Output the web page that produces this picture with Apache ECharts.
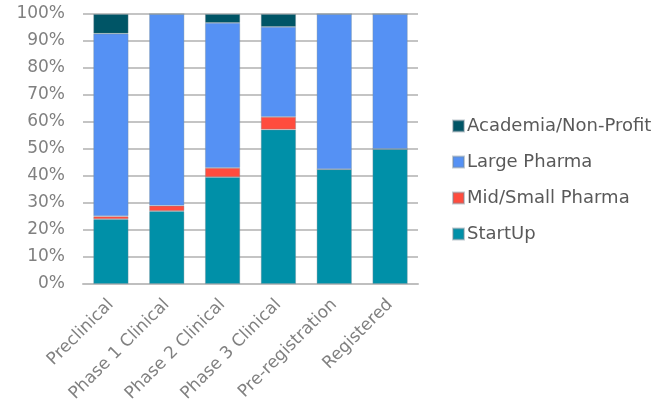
<!DOCTYPE html>
<html>
<head>
<meta charset="utf-8">
<script src="https://cdn.jsdelivr.net/npm/echarts@6/dist/echarts.min.js"></script>
<style>
  html, body { margin: 0; padding: 0; background: #ffffff; }
  #chart { width: 656px; height: 412px; }
</style>
</head>
<body>
<div id="chart"></div>
<script>
// Development stages along the x axis
const stages = ['Preclinical', 'Phase 1 Clinical', 'Phase 2 Clinical', 'Phase 3 Clinical', 'Pre-registration', 'Registered'];

// Share of products by company type at each stage (%)
const startUp = [24.0, 27.0, 39.6, 57.2, 42.5, 50.0];
const midSmallPharma = [1.1, 2.0, 3.4, 4.7, 0, 0];
const largePharma = [67.6, 71.0, 53.7, 33.3, 57.5, 50.0];
const academiaNonProfit = [7.3, 0, 3.3, 4.8, 0, 0];

const yTicks = [0, 10, 20, 30, 40, 50, 60, 70, 80, 90, 100];

const font = 'DejaVu Sans, Verdana, sans-serif';

function barSeries(name, data, color) {
  return {
    name: name,
    type: 'bar',
    stack: 'share',
    data: data,
    barCategoryGap: '37%',
    itemStyle: { color: color, borderColor: 'rgba(120,140,150,0.45)', borderWidth: 0.8 },
    emphasis: { disabled: true }
  };
}

const chart = echarts.init(document.getElementById('chart'), null, { renderer: 'canvas' });
chart.setOption({
  animation: false,
  grid: { left: 83, right: 238, top: 14, bottom: 128, containLabel: false },
  legend: {
    orient: 'vertical',
    left: 447,
    top: 112,
    itemWidth: 11,
    itemHeight: 11,
    itemGap: 18,
    icon: 'rect',
    data: ['Academia/Non-Profit', 'Large Pharma', 'Mid/Small Pharma', 'StartUp'],
    textStyle: { fontFamily: font, fontSize: 18, lineHeight: 18, color: '#595959', padding: [0, 0, 0, -2] }
  },
  xAxis: {
    type: 'category',
    data: stages,
    axisLine: { show: true, lineStyle: { color: '#bfbfbf', width: 2 } },
    axisTick: { show: false },
    axisLabel: {
      rotate: 45,
      interval: 0,
      margin: 18,
      fontFamily: font,
      fontSize: 17,
      color: '#808080'
    }
  },
  yAxis: {
    type: 'value',
    min: yTicks[0],
    max: yTicks[yTicks.length - 1],
    interval: 10,
    axisLine: { show: false },
    axisTick: { show: false },
    splitLine: { lineStyle: { color: '#c4c4c4', width: 2 } },
    axisLabel: {
      formatter: '{value}%',
      margin: 18,
      fontFamily: font,
      fontSize: 17,
      color: '#808080'
    }
  },
  series: [
    barSeries('StartUp', startUp, '#0090A8'),
    barSeries('Mid/Small Pharma', midSmallPharma, '#FF4C3E'),
    barSeries('Large Pharma', largePharma, '#5591F4'),
    barSeries('Academia/Non-Profit', academiaNonProfit, '#005566')
  ]
});
</script>
</body>
</html>
